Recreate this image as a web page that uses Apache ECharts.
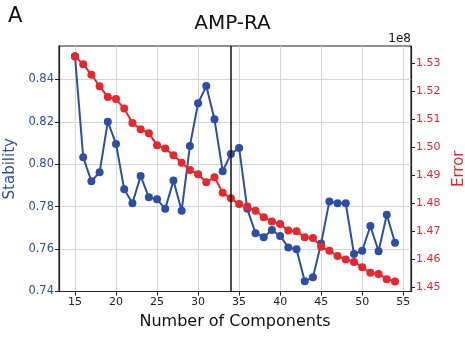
<!DOCTYPE html>
<html>
<head>
<meta charset="utf-8">
<script src="https://cdn.jsdelivr.net/npm/echarts@6/dist/echarts.min.js"></script>
<style>
html,body{margin:0;padding:0;background:#fff;}
#chart{width:465px;height:341px;}
</style>
</head>
<body>
<div id="chart"></div>
<script>
const components = [15,16,17,18,19,20,21,22,23,24,25,26,27,28,29,30,31,32,33,34,35,36,37,38,39,40,41,42,43,44,45,46,47,48,49,50,51,52,53,54];
const stability = [0.851,0.8033,0.792,0.7962,0.8201,0.8096,0.7882,0.7816,0.7945,0.7844,0.7835,0.779,0.7923,0.7781,0.8086,0.8288,0.8369,0.8212,0.7967,0.8049,0.8077,0.779,0.7675,0.7656,0.769,0.7662,0.7608,0.7599,0.7448,0.7467,0.7627,0.7825,0.7816,0.7816,0.7577,0.7592,0.7709,0.759,0.7762,0.763];
// error in units of 1e8
const errorVals = [1.5324,1.5297,1.5259,1.5218,1.5179,1.5172,1.5138,1.5086,1.5064,1.505,1.5007,1.4995,1.4971,1.4944,1.4918,1.4903,1.4874,1.4892,1.4837,1.4817,1.4796,1.4787,1.4772,1.4749,1.4734,1.4725,1.4701,1.4699,1.4677,1.4675,1.4643,1.4629,1.461,1.4598,1.4589,1.457,1.455,1.4546,1.4527,1.4519];
const xTicks = [15,20,25,30,35,40,45,50,55];
const stabTicks = [0.74,0.76,0.78,0.80,0.82,0.84];
const errTicks = [1.45,1.46,1.47,1.48,1.49,1.50,1.51,1.52,1.53];
const selectedK = 34;

const BLUE = '#2d4ea6';
const RED = '#e8262b';
const FONT = 'DejaVu Sans';

const chart = echarts.init(document.getElementById('chart'), null, {renderer:'canvas'});
chart.setOption({
  animation:false,
  backgroundColor:'#fff',
  textStyle:{fontFamily:FONT},
  title:{
    text:'AMP-RA', left:'center', top:9,
    textStyle:{fontFamily:FONT, fontSize:20, fontWeight:'normal', color:'#111'}
  },
  graphic:[
    {type:'text', left:8, top:6, style:{text:'A', fontFamily:FONT, fontSize:21, fill:'#111'}},
    {type:'text', right:54, top:33, style:{text:'1e8', fontFamily:FONT, fontSize:12, fill:'#111'}}
  ],
  grid:{left:59, right:54, top:46, bottom:49.5, outerBoundsMode:'none', containLabel:false,
    show:true, borderColor:'#222', borderWidth:1.2, backgroundColor:'transparent'},
  xAxis:{
    type:'value', min:13.05, max:55.95,
    name:'Number of Components', nameLocation:'middle', nameGap:22,
    nameTextStyle:{fontFamily:FONT, fontSize:16, color:'#111'},
    axisLine:{show:true, lineStyle:{color:'#222', width:1.2}},
    axisTick:{show:true, length:4, customValues:xTicks, lineStyle:{color:'#222'}},
    axisLabel:{customValues:xTicks, fontFamily:FONT, fontSize:11, color:'#222', margin:5},
    splitLine:{show:true, lineStyle:{color:'#d6d6d6', width:1}}
  },
  yAxis:[
    {
      type:'value', min:0.74, max:0.8558, position:'left',
      name:'Stability', nameLocation:'middle', nameGap:38,
      nameTextStyle:{fontFamily:FONT, fontSize:15, color:BLUE},
      axisLine:{show:true, lineStyle:{color:'#222', width:1.2}},
      axisTick:{show:true, length:4, customValues:stabTicks, lineStyle:{color:'#222'}},
      axisLabel:{customValues:stabTicks, fontFamily:FONT, fontSize:11.5, color:BLUE, margin:5,
        formatter:v=>v.toFixed(2)},
      splitLine:{show:true, lineStyle:{color:'#d6d6d6', width:1}}
    },
    {
      type:'value', min:1.4483, max:1.5362, position:'right',
      name:'Error', nameLocation:'middle', nameGap:39,
      nameTextStyle:{fontFamily:FONT, fontSize:15, color:RED},
      axisLine:{show:true, lineStyle:{color:'#222', width:1.2}},
      axisTick:{show:true, length:4, customValues:errTicks, lineStyle:{color:'#222'}},
      axisLabel:{customValues:errTicks, fontFamily:FONT, fontSize:11, color:RED, margin:5,
        formatter:v=>v.toFixed(2)},
      splitLine:{show:false}
    }
  ],
  series:[
    {
      type:'line', yAxisIndex:0,
      data:components.map((c,i)=>[c, stability[i]]),
      symbol:'circle', symbolSize:8,
      lineStyle:{color:BLUE, width:2},
      itemStyle:{color:BLUE},
      z:2,
      markLine:{
        silent:true, symbol:['none','none'], label:{show:false},
        lineStyle:{color:'#111', width:1.5, type:'solid'},
        data:[{xAxis:selectedK}]
      }
    },
    {
      type:'line', yAxisIndex:1,
      data:components.map((c,i)=>[c, errorVals[i]]),
      symbol:'circle', symbolSize:8,
      lineStyle:{color:RED, width:2},
      itemStyle:{color:RED},
      z:3
    }
  ]
});
</script>
</body>
</html>
